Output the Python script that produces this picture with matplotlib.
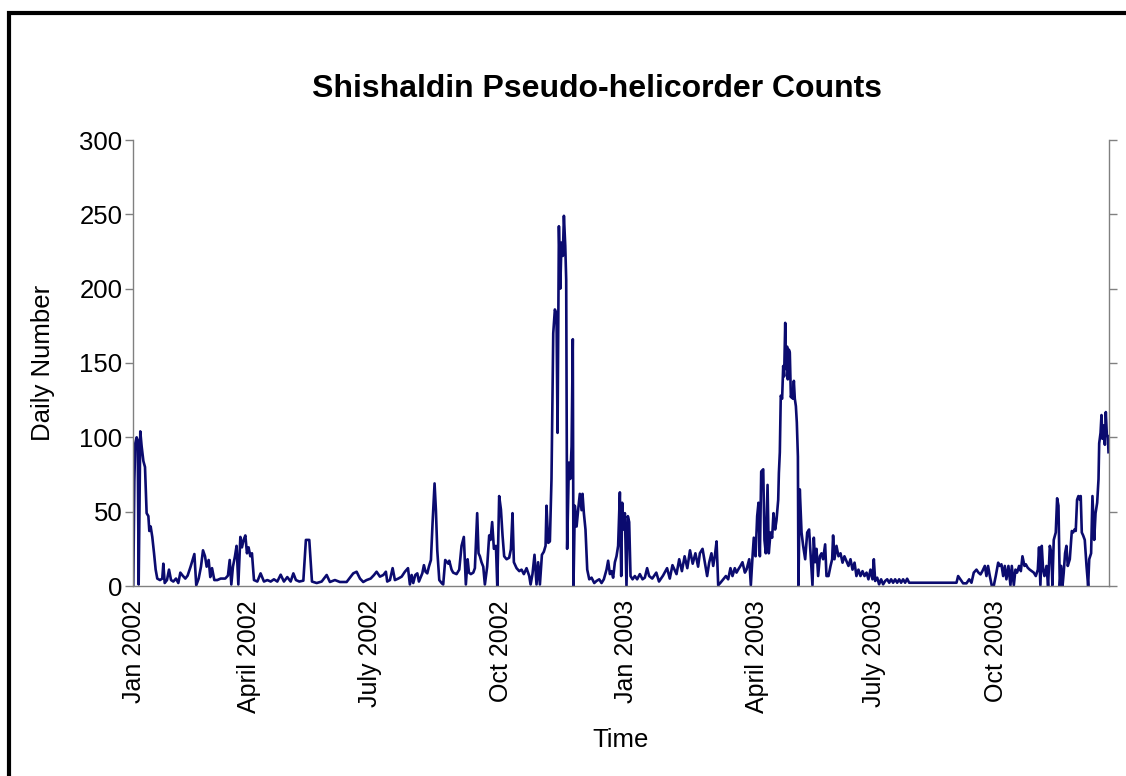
import matplotlib

matplotlib.use("Agg")

import matplotlib.pyplot as plt
from matplotlib.lines import Line2D

plt.rcParams["font.family"] = ["Liberation Sans", "DejaVu Sans"]

# days since 1 Jan 2002
DAYS = [
    0.2, 1.0, 1.7, 2.7, 3.5, 4.2, 5.4, 6.4, 7.7, 8.9, 10.1, 11.4, 12.1, 13.1, 14.3,
    15.6, 16.8, 18.0, 20.0, 21.7, 22.5, 23.5, 25.2, 26.7, 28.2, 29.9, 31.9, 33.6,
    35.1, 36.8, 38.8, 40.5, 42.7, 45.5, 46.9, 48.7, 50.4, 51.9, 53.4, 54.6, 56.1,
    57.3, 58.6, 60.3, 62.5, 65.0, 68.4, 70.4, 71.7, 72.9, 74.1, 75.6, 76.8, 78.1,
    79.6, 80.8, 82.0, 83.3, 84.5, 85.7, 87.0, 88.2, 89.7, 92.2, 94.6, 97.1, 99.6,
    102.1, 104.5, 107.0, 109.5, 111.9, 114.4, 116.9, 118.9, 120.8, 123.3, 126.3,
    128.2, 130.7, 131.7, 132.7, 136.2, 139.9, 143.6, 146.0, 149.7, 153.4, 158.4,
    163.3, 165.8, 168.3, 170.7, 173.2, 176.2, 178.7, 180.6, 183.1, 185.6, 187.5,
    188.5, 190.5, 192.5, 194.2, 196.7, 199.2, 201.6, 203.9, 205.3, 206.6, 207.8,
    209.3, 210.8, 212.0, 213.2, 214.5, 215.7, 216.9, 218.2, 219.4, 220.9, 222.1,
    223.6, 224.6, 225.6, 227.1, 228.8, 230.0, 231.5, 233.8,
    234.5, 236.2, 237.4, 239.9, 241.9, 243.6, 245.3, 246.8, 248.1, 249.1, 250.5,
    252.3, 253.5, 255.2, 256.2, 257.2, 258.4, 259.7, 260.9, 262.6, 264.1, 265.1,
    266.3, 267.6, 269.1, 270.1, 271.5, 272.8, 274.0, 275.2, 277.0, 278.9, 280.2,
    281.4, 282.4, 284.4, 286.4, 288.1, 289.8, 291.8, 293.8, 294.8, 296.2, 297.7,
    299.2, 300.4, 301.7, 303.2, 304.6, 305.9, 306.6, 307.9, 309.1, 310.3, 311.6,
    312.8, 314.0, 314.8, 315.8, 316.8, 317.7, 318.7, 319.5, 320.5, 321.2, 321.9,
    323.2, 324.2, 325.2, 326.1, 326.6, 327.6, 328.9, 330.1, 331.3, 332.6, 333.3,
    334.3, 335.5, 336.8, 338.3, 340.0, 342.0, 343.7, 345.7, 347.4, 349.1, 351.1,
    352.3, 353.6, 354.8, 356.0, 357.3, 358.5, 359.7, 361.0, 362.0, 362.7, 363.7,
    364.7, 365.9, 366.9, 367.9, 368.9, 370.4, 372.1, 373.8, 375.8, 377.8, 379.5,
    381.2, 382.7,
    385.0, 388.0, 390.0, 393.0, 396.0, 398.0, 400.0, 403.0, 405.0, 407.0, 409.0,
    411.0, 413.0, 415.0, 417.0, 419.0,
    420.3, 422.3, 424.0, 425.7, 427.2, 428.9, 430.2, 431.4, 432.7, 433.9, 435.6,
    437.6, 439.6, 441.3, 443.0, 444.5, 446.2, 447.5, 448.7, 450.4, 451.9, 453.7,
    454.9, 456.9, 458.1, 459.3, 460.3, 461.6, 462.8, 463.8, 464.8, 465.8, 467.3,
    468.2, 469.2, 470.5, 471.4, 472.7, 473.9, 474.9, 476.1, 477.1, 478.4, 478.9,
    479.6, 480.3, 481.3, 482.1, 482.8, 483.6, 484.1, 485.0, 485.5, 486.3, 487.0,
    487.8, 488.5, 489.2, 490.0, 490.7, 491.5, 492.2, 493.0, 493.4, 494.4, 495.7,
    496.9, 498.4, 499.9, 501.3, 502.6, 503.8, 504.8, 505.8, 506.8, 508.0, 509.3,
    510.5, 511.7, 513.2, 514.2, 515.7, 517.2, 518.4, 519.1, 520.1, 521.6, 523.1,
    524.6, 526.1, 527.5, 529.0, 530.5, 532.0, 533.5, 535.0, 536.4, 537.9, 539.4,
    540.9, 542.4, 543.9, 545.3, 546.8, 548.3, 549.3, 550.3, 551.8, 553.2, 554.7,
    556.2, 557.7, 559.2, 560.7, 562.1, 563.6, 565.1, 566.6, 568.1, 569.5, 571.0,
    572.5, 574.0, 575.5, 577.0, 610.6, 611.8, 613.5, 615.5, 618.0, 620.0, 621.7,
    623.4, 625.4, 626.9, 628.4, 629.8, 631.6, 632.8, 634.0, 635.3, 636.8, 638.2,
    639.7, 641.5, 642.7, 643.9, 645.2, 646.4, 647.6, 649.1, 650.6, 651.6, 653.1,
    654.3, 655.5, 657.0, 658.3, 659.5, 661.0, 662.0, 663.4, 664.9, 666.4, 667.9,
    669.4, 670.9, 671.8, 672.8, 673.8, 674.8, 675.8, 677.3, 678.5, 679.8, 681.0,
    681.7, 682.7, 684.2, 685.2, 686.2, 687.2, 688.2, 689.2, 690.1, 691.1, 692.1,
    693.1, 694.6, 696.1, 697.1, 698.1, 699.0, 700.0, 701.0, 702.0, 702.7, 703.5,
    704.5, 705.7, 707.0, 708.2, 709.0, 710.4, 711.4, 712.7, 713.7, 714.9, 715.9,
    716.4, 717.4, 718.1, 718.8, 719.8, 720.6, 721.3, 722.1, 722.8, 723.3,
]

COUNTS = [
    0, 71, 96, 100, 98, 1, 104, 94, 84, 80, 49, 47, 37, 40, 33,
    22, 11, 5, 4, 5, 15, 2, 4, 11, 4, 3, 5, 2,
    9, 7, 5, 7, 13, 21.5, 0.5, 5, 13, 24, 20, 13, 17.5,
    6, 12, 4, 4, 5, 5, 7, 17.5, 1, 13, 20, 27, 1,
    33, 26, 31, 34, 22, 26, 20, 22, 4, 3, 8.5, 3, 4,
    3, 4.5, 3, 7.6, 3, 6, 3, 8.5, 4, 3, 3.6,
    31, 31, 17.5, 3, 2, 3, 7.4, 2.7, 4, 2.7, 2.7,
    8.5, 9.6, 5, 2.7, 4, 5, 7.4, 9.6, 6.3, 7.4, 9.6,
    3, 4, 12, 4, 5, 6.3, 9.6, 12, 1, 7.4, 2,
    7.4, 8.5, 3, 5.6, 8.5, 14, 9.6, 8.5, 13, 17.5, 42,
    69, 51, 24, 4, 2, 1, 17.5, 15,
    17, 11, 9, 8, 11, 27, 33, 1, 18, 9, 8,
    9, 12, 49, 22, 20, 16, 13, 1, 13, 34, 31,
    43, 25, 27, 0, 60.5, 51.5, 34, 20, 18, 19, 24.7,
    49, 16, 12, 10, 11, 8, 12, 6.7, 1, 8, 21,
    1, 16, 1, 21, 23, 27, 54, 29, 30, 72, 170,
    186, 183, 103, 242, 200, 231, 222, 249, 229, 206, 25,
    83, 72, 94, 166, 0, 54, 40, 51.5, 62, 51, 62,
    49, 38, 11, 4.5, 5.6, 2, 3.4, 4.5, 2, 4.5, 11,
    17, 8, 10, 5.6, 16, 20, 27, 63, 6.7, 56, 38,
    49, 0, 47, 43, 6.7, 4.5, 6.7, 4.5, 8, 4.5, 5.6,
    12, 6.7,
    5, 9, 3, 7, 12, 5, 14, 8, 18, 10, 20,
    12, 24, 15, 22, 13,
    22, 25, 15.7, 6.7, 15.7, 22, 13.5, 20, 30, 0.5, 2.2,
    4.5, 6.7, 4.5, 12, 6.7, 12, 9, 11, 13.5, 16, 9,
    11, 18, 0.5, 19, 32.5, 20, 47, 56, 20, 77, 78.5,
    31, 22, 68, 22, 36, 32.5, 49, 38, 44, 58, 76,
    90, 128, 126, 148, 141, 177, 146, 161, 139, 159, 157,
    127, 130, 126, 138, 126, 121, 110, 87, 0.5, 65, 36,
    27, 18, 36, 38, 18, 0.5, 32.5, 16, 25, 6.7, 20,
    22, 18, 28, 6.7, 6.7, 13.5, 18, 34, 18, 27, 20,
    22, 15.7, 20, 16.8, 13.5, 18, 11, 15.7, 6.7, 11, 6.7,
    10, 6.7, 9, 4.5, 11, 4.5, 18, 3.4, 5.6, 1.1, 4.5,
    1.1, 3.4, 4.5, 2.2, 4.5, 2.2, 4.5, 2.2, 4.5, 2.2, 4.5,
    2.2, 4.9, 2.2, 2.2, 2.2, 6.7, 4.5, 1.8, 1.8, 4.5, 2.2,
    9, 11, 9, 7.8, 10, 13.5, 6.7, 13.5, 6.7, 0, 0,
    6.7, 15.7, 13.5, 14.6, 6.7, 13.5, 4.5, 13.5, 0.5, 13.5, 0.5,
    11, 9, 13.5, 10, 20, 13.5, 14.6, 12.3, 11, 10, 9,
    6.7, 11, 26, 0.5, 27, 11, 6.7, 13.5, 0, 27, 22,
    0.5, 31, 36, 59, 54, 0, 13.5, 0, 9, 22, 27,
    13.5, 18, 37, 36, 38, 37, 58, 60.5, 58, 60.5, 36,
    34, 31, 13.5, 0, 18, 22, 60.5, 31, 49, 56, 72,
    96, 103, 115, 99, 108, 95, 117, 101, 101, 90,
]

TICK_DAYS = [0.7, 86.0, 175.7, 272.8, 365.5, 462.6, 549.3, 639.7]
TICK_LABELS = ["Jan 2002", "April 2002", "July 2002", "Oct 2002",
               "Jan 2003", "April 2003", "July 2003", "Oct 2003"]
Y_TICKS = [0, 50, 100, 150, 200, 250, 300]

W, H = 1126, 776
fig = plt.figure(figsize=(W / 100, H / 100), dpi=100)
ax = fig.add_axes([133 / W, 1 - 586 / H, 975.5 / W, 446 / H])

ax.plot(DAYS, COUNTS, color="#0b0b6f", linewidth=1.9)
ax.set_xlim(0, 723.3)
ax.set_ylim(0, 300)

grey = "#808080"
ax.spines["top"].set_visible(False)
for side in ["left", "right", "bottom"]:
    ax.spines[side].set_color(grey)
    ax.spines[side].set_linewidth(1.0)

ax.set_yticks(Y_TICKS)
ax.tick_params(axis="y", which="both", direction="out", length=6, width=1,
               color=grey, left=True, right=True, labelsize=18.5, pad=1.5)
ax.set_xticks(TICK_DAYS)
ax.set_xticklabels(TICK_LABELS, rotation=90, ha="center", va="top")
ax.tick_params(axis="x", length=0, labelsize=18, pad=10)

ax.set_ylabel("Daily Number", fontsize=18.5)
ax.yaxis.set_label_coords(-0.08, 0.5)
ax.set_xlabel("Time", fontsize=18.5)
ax.xaxis.set_label_coords(0.5, -0.318)

fig.text(597 / W, 1 - 97 / H, "Shishaldin Pseudo-helicorder Counts",
         ha="center", va="baseline", fontsize=23, fontweight="bold")

# thick black frame on the left and top of the figure
fig.add_artist(Line2D([8.5 / W, 8.5 / W, 1.0], [0.0, 1 - 13 / H, 1 - 13 / H],
                      transform=fig.transFigure, color="black", linewidth=3,
                      solid_joinstyle="miter"))

fig.savefig("out.png", dpi=100)
